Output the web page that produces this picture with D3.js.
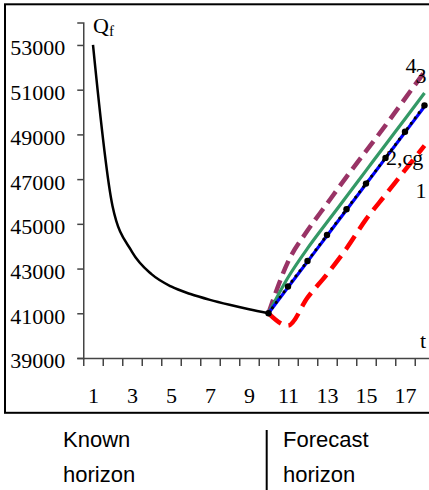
<!DOCTYPE html>
<html>
<head>
<meta charset="utf-8">
<script src="https://cdn.jsdelivr.net/npm/d3@7"></script>
<style>
  html, body { margin: 0; padding: 0; background: #fff; }
  svg { display: block; }
</style>
</head>
<body>
<svg id="chart" width="429" height="490"></svg>
<script>
// Time steps and the known (historical) part of Q_f
const knownT = [1, 2, 3, 4, 5, 6, 7, 8, 9, 10];
const knownQ = [53000, 45800, 43750, 42750, 42200, 41860, 41600, 41380, 41180, 41000];

// Forecast scenarios, t = 10 .. 18
const forecastT = [10, 11, 12, 13, 14, 15, 16, 17, 18];
const scenario1 = [41000, 40450, 41700, 42750, 43900, 45200, 46300, 47400, 48500];
const scenario2 = [41000, 42160, 43310, 44470, 45620, 46780, 47940, 49090, 50250];
const scenarioCg = [41000, 42200, 43340, 44500, 45650, 46800, 47950, 49120, 50300];
const scenario3 = [41000, 42600, 43900, 45070, 46220, 47380, 48540, 49690, 50850];
const scenario4 = [41000, 43300, 44700, 45900, 47100, 48250, 49400, 50600, 51800];

// Axis ticks
const yTicks = [39000, 41000, 43000, 45000, 47000, 49000, 51000, 53000];
const xLabelTicks = [1, 3, 5, 7, 9, 11, 13, 15, 17];

const svg = d3.select("#chart");
const serif = "'Liberation Serif', 'Times New Roman', serif";
const sans = "'Liberation Sans', Arial, sans-serif";

// Outer frame around the plot
svg.append("rect")
  .attr("x", 5).attr("y", 4.3)
  .attr("width", 440).attr("height", 408.5)
  .attr("fill", "none").attr("stroke", "#000").attr("stroke-width", 2);

// Scales: categories 1..18, each one a band 19.5 px wide
const x = d3.scaleLinear().domain([0.5, 18.5]).range([83.25, 434.25]);
const y = d3.scaleLinear().domain([39000, 54000]).range([358, 22.6]);

const axisColor = "#444";

// Y axis
const yAxis = svg.append("g")
  .attr("transform", `translate(${x(0.5)},0)`)
  .call(d3.axisLeft(y).tickValues(yTicks).tickFormat(d3.format("d"))
    .tickSize(6).tickPadding(12));
yAxis.select(".domain").attr("stroke", axisColor).attr("stroke-width", 1.5);
yAxis.selectAll(".tick line").attr("stroke", axisColor).attr("stroke-width", 1.5);
yAxis.selectAll("text")
  .attr("font-family", serif).attr("font-size", 22).attr("fill", "#000")
  .attr("dy", "0.45em");

// X axis: tick marks between categories
const xTickAxis = svg.append("g")
  .attr("transform", `translate(0,${y(39000)})`)
  .call(d3.axisBottom(x).tickValues(d3.range(0.5, 18.5, 1)).tickFormat("")
    .tickSize(8).tickSizeOuter(0));
xTickAxis.select(".domain").attr("stroke", axisColor).attr("stroke-width", 1.5);
xTickAxis.selectAll(".tick line").attr("stroke", axisColor).attr("stroke-width", 1.5);

// X axis: labels centred on the categories
const xLabelAxis = svg.append("g")
  .attr("transform", `translate(0,${y(39000)})`)
  .call(d3.axisBottom(x).tickValues(xLabelTicks).tickSize(0).tickPadding(29.5));
xLabelAxis.select(".domain").remove();
xLabelAxis.selectAll("text")
  .attr("font-family", serif).attr("font-size", 22).attr("fill", "#000");

// Smoothed line generator
const line = d3.line().x(d => x(d[0])).y(d => y(d[1])).curve(d3.curveMonotoneX);
const pairs = (ts, vs) => ts.map((t, i) => [t, vs[i]]);

function drawLine(ts, vs, color, width, dash, cap) {
  svg.append("path")
    .datum(pairs(ts, vs))
    .attr("d", line)
    .attr("fill", "none")
    .attr("stroke", color)
    .attr("stroke-width", width)
    .attr("stroke-dasharray", dash || null)
    .attr("stroke-linecap", cap || "butt")
    .attr("stroke-linejoin", "round");
}

// Known horizon
drawLine(knownT, knownQ, "#000", 2.5);

// Forecast scenarios
drawLine(forecastT, scenario1, "#ff0000", 4.5, "16 8");
drawLine(forecastT, scenario4, "#993366", 4.5, "14 7");
drawLine(forecastT, scenario3, "#339966", 3.2);
drawLine(forecastT, scenario2, "#0000ff", 3.2);
drawLine(forecastT, scenarioCg, "#000", 3, "0.1 6.5", "round");

// Markers on the cg scenario
svg.append("g").selectAll("circle")
  .data(pairs(forecastT, scenarioCg))
  .join("circle")
  .attr("cx", d => x(d[0]))
  .attr("cy", d => y(d[1]))
  .attr("r", 3.2)
  .attr("fill", "#000");

// Axis titles
const qLabel = svg.append("text")
  .attr("x", 93).attr("y", 33)
  .attr("font-family", serif).attr("font-size", 22).attr("fill", "#000");
qLabel.append("tspan").text("Q");
qLabel.append("tspan").attr("font-size", 15).attr("dy", 3).text("f");

svg.append("text")
  .attr("x", 420).attr("y", 348)
  .attr("font-family", serif).attr("font-size", 22).attr("fill", "#000")
  .text("t");

// Scenario labels
const scenLabels = [
  { text: "4", x: 405.5, y: 73 },
  { text: "3", x: 415.5, y: 83 },
  { text: "2,cg", x: 386, y: 165 },
  { text: "1", x: 415.5, y: 198 }
];
svg.append("g").selectAll("text")
  .data(scenLabels)
  .join("text")
  .attr("x", d => d.x).attr("y", d => d.y)
  .attr("font-family", serif).attr("font-size", 22).attr("fill", "#000")
  .text(d => d.text);

// Horizon captions below the frame
const captions = [
  { lines: ["Known", "horizon"], x: 63 },
  { lines: ["Forecast", "horizon"], x: 283 }
];
captions.forEach(c => {
  const t = svg.append("text")
    .attr("font-family", sans).attr("font-size", 22).attr("fill", "#000");
  c.lines.forEach((s, i) => {
    t.append("tspan").attr("x", c.x).attr("y", 447 + i * 35).text(s);
  });
});

svg.append("line")
  .attr("x1", 266.7).attr("x2", 266.7)
  .attr("y1", 430).attr("y2", 490)
  .attr("stroke", "#000").attr("stroke-width", 2);
</script>
</body>
</html>
